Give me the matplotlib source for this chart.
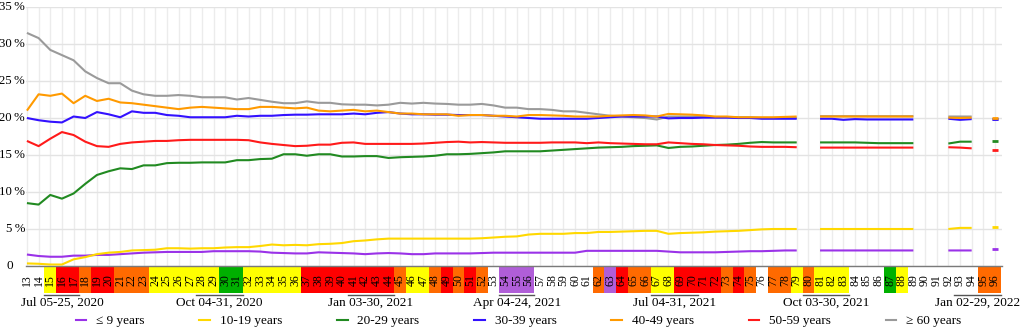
import numpy as np
import matplotlib
matplotlib.use("Agg")
import matplotlib.pyplot as plt
from matplotlib.patches import Rectangle
from matplotlib.lines import Line2D
from matplotlib.transforms import blended_transform_factory

plt.rcParams['font.family'] = ['Liberation Serif', 'DejaVu Serif']

nan = np.nan
weeks = list(range(13, 97))

# share of cases per age group (%), weeks 13..96
age_09 = [1.55, 1.35, 1.25, 1.25, 1.4, 1.4, 1.5, 1.5, 1.6, 1.7, 1.8, 1.85, 1.9, 1.9, 1.9, 1.9, 2.0, 2.0, 2.0, 2.0,
          1.95, 1.8, 1.75, 1.7, 1.7, 1.85, 1.8, 1.75, 1.7, 1.6, 1.7, 1.75, 1.7, 1.6, 1.6, 1.7, 1.7, 1.7, 1.7, 1.75,
          1.8, 1.8, 1.8, 1.8, 1.8, 1.8, 1.8, 1.8, 2.05, 2.05, 2.05, 2.05, 2.05, 2.05, 2.05, 1.95, 1.85, 1.85, 1.85, 1.85,
          1.9, 1.95, 2.0, 2.0, 2.05, 2.1, 2.1, nan, 2.1, 2.1, 2.1, 2.1, 2.1, 2.1, 2.1, 2.1, 2.1, nan, nan, 2.1,
          2.1, 2.1, nan, 2.25]
age_1019 = [0.35, 0.3, 0.2, 0.2, 0.9, 1.2, 1.6, 1.8, 1.9, 2.1, 2.15, 2.2, 2.4, 2.4, 2.35, 2.4, 2.4, 2.5, 2.55, 2.55,
            2.7, 2.9, 2.8, 2.85, 2.8, 2.95, 3.0, 3.1, 3.35, 3.45, 3.6, 3.7, 3.7, 3.7, 3.7, 3.7, 3.7, 3.7, 3.7, 3.75,
            3.85, 3.95, 4.0, 4.25, 4.35, 4.35, 4.35, 4.45, 4.45, 4.6, 4.6, 4.65, 4.7, 4.75, 4.75, 4.35, 4.45, 4.5, 4.55, 4.65,
            4.7, 4.75, 4.85, 4.95, 5.0, 5.0, 5.0, nan, 5.0, 5.0, 5.0, 5.0, 5.0, 5.0, 5.0, 5.0, 5.0, nan, nan, 5.0,
            5.15, 5.15, nan, 5.3]
age_2029 = [8.5, 8.3, 9.6, 9.1, 9.8, 11.1, 12.3, 12.8, 13.2, 13.1, 13.6, 13.6, 13.9, 13.95, 13.95, 14.0, 14.0, 14.0, 14.3, 14.3,
            14.45, 14.5, 15.1, 15.1, 14.9, 15.1, 15.1, 14.8, 14.8, 14.85, 14.85, 14.6, 14.7, 14.75, 14.8, 14.9, 15.1, 15.1, 15.15, 15.25,
            15.35, 15.5, 15.5, 15.5, 15.5, 15.6, 15.7, 15.8, 15.9, 16.0, 16.05, 16.1, 16.2, 16.25, 16.3, 15.95, 16.1, 16.15, 16.25, 16.35,
            16.4, 16.5, 16.65, 16.75, 16.7, 16.7, 16.7, nan, 16.7, 16.7, 16.7, 16.7, 16.65, 16.6, 16.6, 16.6, 16.6, nan, nan, 16.55,
            16.8, 16.8, nan, 16.9]
age_3039 = [20.0, 19.7, 19.5, 19.4, 20.2, 20.0, 20.8, 20.5, 20.1, 20.9, 20.7, 20.7, 20.4, 20.3, 20.1, 20.1, 20.1, 20.1, 20.3, 20.2,
            20.3, 20.3, 20.4, 20.45, 20.45, 20.5, 20.5, 20.5, 20.6, 20.5, 20.7, 20.8, 20.6, 20.5, 20.5, 20.45, 20.45, 20.4, 20.4, 20.4,
            20.3, 20.2, 20.1, 20.0, 19.9, 19.9, 19.9, 19.9, 19.9, 20.0, 20.1, 20.2, 20.2, 20.2, 20.2, 19.95, 20.0, 20.0, 20.05, 20.05,
            20.05, 20.0, 20.0, 19.9, 19.9, 19.9, 19.9, nan, 19.9, 19.9, 19.75, 19.85, 19.8, 19.8, 19.8, 19.8, 19.8, nan, nan, 19.9,
            19.75, 19.85, nan, 19.9]
age_4049 = [21.0, 23.2, 23.0, 23.3, 22.0, 23.0, 22.3, 22.6, 22.1, 22.0, 21.8, 21.6, 21.4, 21.2, 21.4, 21.5, 21.4, 21.3, 21.2, 21.2,
            21.5, 21.5, 21.4, 21.3, 21.4, 21.0, 20.9, 21.0, 21.1, 20.9, 21.0, 20.8, 20.6, 20.6, 20.5, 20.5, 20.5, 20.3, 20.4, 20.4,
            20.3, 20.3, 20.2, 20.4, 20.4, 20.35, 20.3, 20.2, 20.2, 20.2, 20.3, 20.35, 20.4, 20.35, 20.2, 20.55, 20.5, 20.45, 20.35, 20.2,
            20.2, 20.1, 20.1, 20.1, 20.1, 20.15, 20.2, nan, 20.2, 20.2, 20.2, 20.2, 20.2, 20.2, 20.2, 20.2, 20.2, nan, nan, 20.05,
            20.0, 20.05, nan, 19.95]
age_5059 = [16.9, 16.2, 17.2, 18.1, 17.7, 16.8, 16.2, 16.1, 16.5, 16.7, 16.8, 16.9, 16.9, 17.0, 17.05, 17.05, 17.05, 17.05, 17.05, 17.0,
            16.7, 16.5, 16.35, 16.2, 16.25, 16.4, 16.4, 16.65, 16.7, 16.5, 16.5, 16.5, 16.5, 16.5, 16.55, 16.65, 16.75, 16.8, 16.7, 16.75,
            16.7, 16.65, 16.65, 16.65, 16.65, 16.7, 16.7, 16.7, 16.6, 16.7, 16.6, 16.55, 16.5, 16.45, 16.45, 16.7, 16.6, 16.5, 16.45, 16.35,
            16.3, 16.25, 16.15, 16.1, 16.1, 16.1, 16.05, nan, 16.0, 16.0, 16.0, 16.0, 16.0, 16.0, 16.0, 16.0, 16.0, nan, nan, 16.05,
            16.0, 15.9, nan, 15.7]
age_60 = [31.5, 30.8, 29.2, 28.5, 27.8, 26.3, 25.4, 24.7, 24.7, 23.7, 23.2, 23.0, 23.0, 23.1, 23.0, 22.8, 22.8, 22.8, 22.5, 22.7,
          22.45, 22.2, 22.0, 22.0, 22.25, 22.05, 22.05, 21.85, 21.8, 21.8, 21.7, 21.8, 22.05, 21.95, 22.05, 21.95, 21.9, 21.8, 21.8, 21.9,
          21.7, 21.4, 21.4, 21.2, 21.2, 21.1, 20.9, 20.9, 20.7, 20.5, 20.3, 20.2, 20.1, 20.0, 19.8, 20.2, 20.2, 20.2, 20.2, 20.1,
          20.1, 20.1, 20.1, 20.0, 20.0, 20.0, 20.0, nan, 20.25, 20.25, 20.25, 20.25, 20.25, 20.25, 20.25, 20.25, 20.25, nan, nan, 20.2,
          20.2, 20.2, nan, 19.9]

labels = ['\u2264 9 years', '10-19 years', '20-29 years', '30-39 years', '40-49 years', '50-59 years', '\u2265 60 years']
colors = ['#9a32e8', '#ffd800', '#218a21', '#3311ff', '#ff9a00', '#ff1a1a', '#9a9a9a']
series = [age_09, age_1019, age_2029, age_3039, age_4049, age_5059, age_60]

# week colour code in the strip under the axis
w = 'white'; y = '#ffff00'; r = '#ff0000'; o = '#ff6a00'; g = '#00b000'; p = '#b05ed8'
cell_colors = [w, w, y, r, r, o, r, r, o, o, o, y, y, y, y, y, y, g, g, y,
               y, y, y, y, r, r, r, r, r, r, r, r, o, y, y, o, r, o, r, o,
               w, p, p, p, w, w, w, w, w, o, p, r, o, o, y, y, r, r, r, r,
               o, r, o, w, o, o, y, o, y, y, y, w, w, w, g, y, w, w, w, w,
               w, w, o, o]

month_labels = ['Jul 05-25, 2020', 'Oct 04-31, 2020', 'Jan 03-30, 2021', 'Apr 04-24, 2021',
                'Jul 04-31, 2021', 'Oct 03-30, 2021', 'Jan 02-29, 2022']
month_weeks = [(15, 17), (28, 31), (41, 44), (54, 56), (67, 70), (80, 83), (93, 96)]

W, H = 1021, 329
fig = plt.figure(figsize=(W / 100, H / 100), dpi=100)
ax = fig.add_axes([26 / W, (H - 266) / H, 976 / W, 259 / H])
ax.set_xlim(12.92, 96.6)
ax.set_ylim(0, 35)

ax.set_yticks(range(0, 36, 5))
ax.set_yticklabels([])
ax.set_xticks(weeks)
ax.set_xticklabels([])
ax.tick_params(length=0)
ax.grid(axis='y', color='#e3e3e3', lw=1)
ax.grid(axis='x', color='#ececec', lw=1)
ax.set_axisbelow(True)
for s in ['top', 'right', 'left']:
    ax.spines[s].set_visible(False)
ax.spines['bottom'].set_color('#7a7a7a')
ax.spines['bottom'].set_linewidth(1)

ytr = blended_transform_factory(ax.transAxes, ax.transData)
for v in range(0, 36, 5):
    if v == 0:
        ax.text(-16 / 976, 0, '0', transform=ytr, ha='center', va='center', fontsize=9.5)
    else:
        ax.text(-1 / 976, v, '%d\u2009%%' % v, transform=ytr, ha='right', va='center', fontsize=9.2)

zs = [3, 3, 3, 3, 3, 3, 2]
for vals, c, lab, z in zip(series, colors, labels, zs):
    ax.plot(weeks, vals, color=c, lw=1.5, zorder=z, solid_capstyle='butt')
    ax.plot(weeks[-1:], vals[-1:], color=c, marker='_', ms=5, mew=2, ls='none', zorder=z)

def py(ypix):
    return (266 - ypix) / 259

tr = blended_transform_factory(ax.transData, ax.transAxes)
for wk, c in zip(weeks, cell_colors):
    if c != 'white':
        ax.add_patch(Rectangle((wk - 0.5, py(292.5)), 1, py(267) - py(292.5), facecolor=c,
                               edgecolor='none', transform=tr, clip_on=False))
    ax.text(wk, py(280), str(wk), rotation=90, ha='center', va='center', fontsize=8.5,
            transform=tr, clip_on=False)

for lab, (a, b) in zip(month_labels, month_weeks):
    ax.add_line(Line2D([a - 0.5, b + 0.5], [py(294.5), py(294.5)], color='#555555', lw=1,
                       transform=tr, clip_on=False))
    ax.text((a + b) / 2, py(303), lab, ha='center', va='center', fontsize=9.5,
            transform=tr, clip_on=False)

handles = [Line2D([], [], color=c, lw=1.5) for c in colors]
fig.legend(handles, labels, loc='center', bbox_to_anchor=(0.508, 8 / H), ncol=7, frameon=False,
           fontsize=9.5, handlelength=0.8, handletextpad=0.75, columnspacing=4.15)

fig.savefig('out.png', dpi=100)
